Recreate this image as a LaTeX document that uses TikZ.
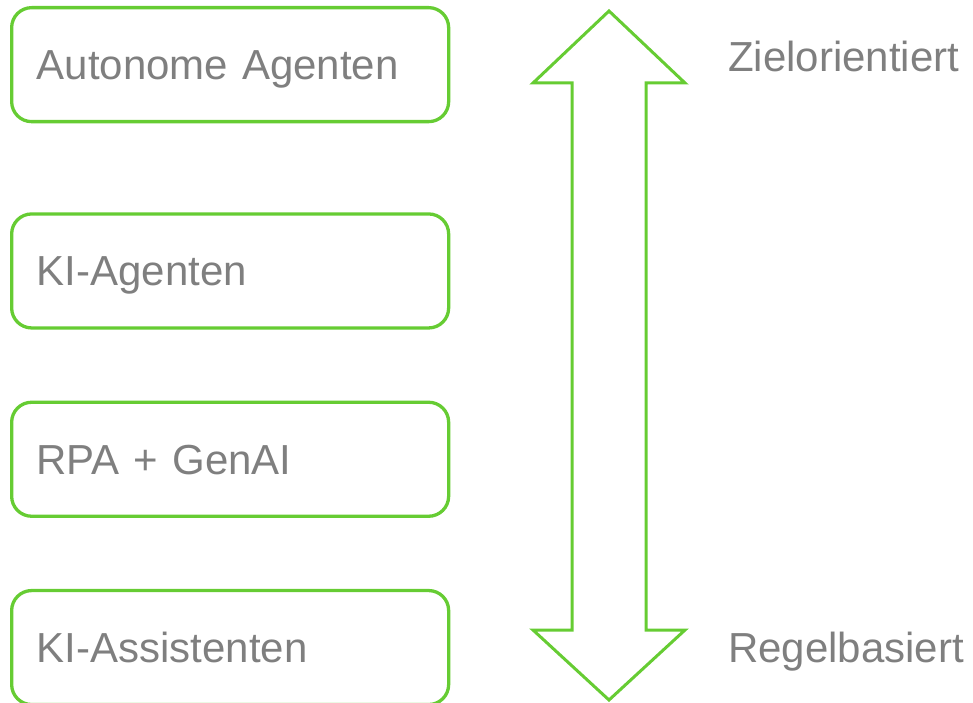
\documentclass[tikz,border=0pt]{standalone}
\usepackage{fontspec}
\setmainfont{Liberation Sans}
\usetikzlibrary{positioning}
\definecolor{stagegreen}{RGB}{102,204,51}
\definecolor{stagegray}{RGB}{127,127,127}
\tikzstyle{stage} = [rectangle, rounded corners=20pt, minimum width=437pt, minimum height=114pt, text width=387pt, inner xsep=25pt, align=left, text height=30pt, text depth=0pt, draw=stagegreen, line width=3.3pt, text=stagegray, font=\fontsize{42}{50}\selectfont]
\tikzstyle{pole} = [text=stagegray, font=\fontsize{42}{50}\selectfont, inner sep=0pt, anchor=base west]

\begin{document}
\begin{tikzpicture}[x=1pt, y=-1pt, node distance=71pt]
 \useasboundingbox (0,0) rectangle (973,703);

 \node (auto) [stage, anchor=north west] at (10,6) {Autonome Agenten};
 \node (kiag) [stage, below=89pt of auto] {KI-Agenten};
 \node (rpa) [stage, below=of kiag] {RPA + GenAI};
 \node (kiass) [stage, below=of rpa] {KI-Assistenten};

 \draw[stagegreen, line width=3pt, line join=miter]
  (609,11) -- (533,83) -- (572,83) -- (572,630) -- (533,630) -- (609,700)
  -- (685,630) -- (646,630) -- (646,83) -- (685,83) -- cycle;

 \node (goal) [pole] at (728,72) {Zielorientiert};
 \node (rule) [pole] at (728,662) {Regelbasiert};

\end{tikzpicture}
\end{document}
